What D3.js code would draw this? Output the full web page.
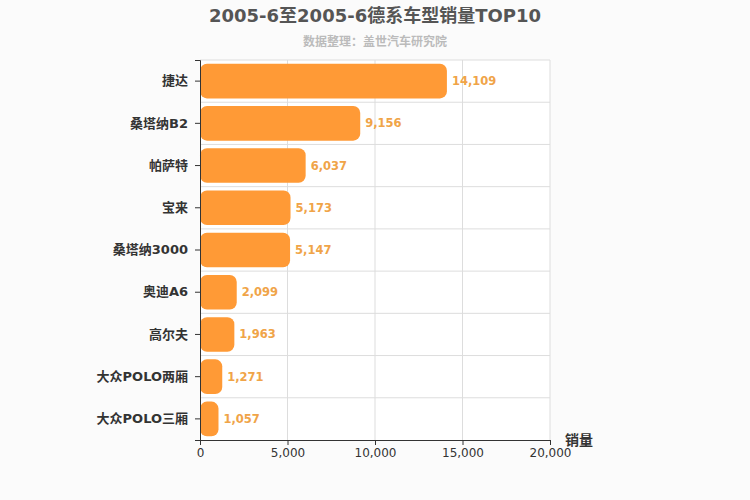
<!DOCTYPE html>
<html><head><meta charset="utf-8">
<script src="https://cdn.jsdelivr.net/npm/d3@7"></script>
<style>body{margin:0;background:#fbfbfb;}svg{font-family:"DejaVu Sans","Noto Sans CJK SC",sans-serif;}</style>
</head><body><svg id="c" width="750" height="500"></svg>
<script>
const categories=["捷达","桑塔纳B2","帕萨特","宝来","桑塔纳3000","奥迪A6","高尔夫","大众POLO两厢","大众POLO三厢"];
const values=[14109,9156,6037,5173,5147,2099,1963,1271,1057];
const ticks=[0,5000,10000,15000,20000];
const svg=d3.select("#c");
svg.append("rect").attr("width",750).attr("height",500).attr("fill","#fbfbfb");
const L=200,R=550,T=60,B=440;
const x=d3.scaleLinear().domain([0,20000]).range([L,R]);
const y=d3.scaleBand().domain(categories).range([T,B]).paddingInner(0.18).paddingOuter(0.09);
const yb=d3.scaleBand().domain(categories).range([T,B]);
svg.append("rect").attr("x",L).attr("y",T).attr("width",R-L).attr("height",B-T).attr("fill","#fff");
svg.selectAll(".gv").data(ticks.slice(1)).join("line").attr("x1",d=>x(d)).attr("x2",d=>x(d)).attr("y1",T).attr("y2",B).attr("stroke","#ddd");
svg.selectAll(".gh").data(categories.slice(1)).join("line").attr("x1",L).attr("x2",R).attr("y1",d=>yb(d)).attr("y2",d=>yb(d)).attr("stroke","#ddd");
svg.append("line").attr("x1",L).attr("x2",R).attr("y1",T).attr("y2",T).attr("stroke","#ddd");
svg.selectAll(".bar").data(values).join("rect").attr("x",L).attr("y",(d,i)=>y(categories[i])).attr("width",d=>x(d)-L).attr("height",y.bandwidth()).attr("rx",7).attr("fill","#ff9a36");
svg.selectAll(".vl").data(values).join("text").attr("x",d=>x(d)+5).attr("y",(d,i)=>y(categories[i])+y.bandwidth()/2).attr("dy","0.35em").attr("fill","#f0a448").attr("font-size",11.5).attr("font-weight","bold").text(d=>d3.format(",")(d));
const ga=svg.append("g").attr("transform",`translate(0,${B})`).call(d3.axisBottom(x).tickValues(ticks).tickFormat(d3.format(",")).tickSize(5));
ga.selectAll("text").attr("font-size",12).attr("fill","#333").attr("font-family","DejaVu Sans");
ga.selectAll("line,path").attr("stroke","#333");
const gy=svg.append("g").attr("transform",`translate(${L},0)`).call(d3.axisLeft(yb).tickSize(5).tickPadding(7));
gy.selectAll("text").attr("font-size",13).attr("font-weight","bold").attr("fill","#333").attr("font-family","DejaVu Sans,Noto Sans CJK SC");
gy.selectAll("line,path").attr("stroke","#333");
svg.append("text").attr("x",565).attr("y",445).attr("font-size",14).attr("font-weight","bold").attr("fill","#333").text("销量");
svg.append("text").attr("x",375).attr("y",22).attr("text-anchor","middle").attr("font-size",18).attr("font-weight","bold").attr("fill","#555").text("2005-6至2005-6德系车型销量TOP10");
svg.append("text").attr("x",375).attr("y",46).attr("text-anchor","middle").attr("font-size",12).attr("font-weight","bold").attr("fill","#bbb").text("数据整理：盖世汽车研究院");
</script></body></html>
